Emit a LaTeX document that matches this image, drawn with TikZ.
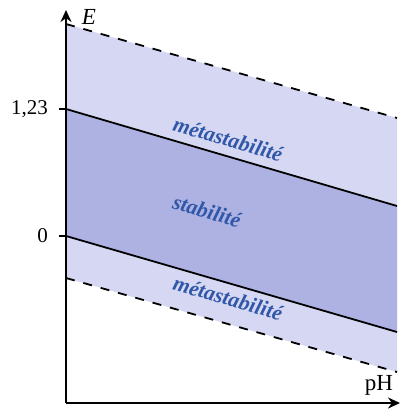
\documentclass[tikz,border=0pt]{standalone}
\usepackage{fontspec}
\setmainfont{Liberation Serif}
\usetikzlibrary{arrows.meta}
\definecolor{Cmeta}{HTML}{D6D8F3}
\definecolor{Cstab}{HTML}{ADB2E3}
\definecolor{Czone}{HTML}{3057A8}

\begin{document}
\begin{tikzpicture}[x=0.5pt,y=-0.5pt,font=\fontsize{10.5}{12}\selectfont,
	zonelabel/.style={text=Czone,font=\fontsize{10.8}{12}\selectfont\bfseries\itshape,rotate=-16},
	axisline/.style={line width=1.2pt,-{Stealth[length=6pt,width=5.5pt]}}]
	\useasboundingbox (0,0) rectangle (403,412);
	% zones
	\fill[Cmeta] (66,24) -- (397,118) -- (397,372) -- (66,278) -- cycle;
	\fill[Cstab] (66,109) -- (397,206) -- (397,332) -- (66,236) -- cycle;
	% limits
	\draw[line width=0.9pt,dash pattern=on 4.5pt off 4.5pt] (66,24) -- (397,118);
	\draw[line width=0.9pt,dash pattern=on 4.5pt off 4.5pt] (66,278) -- (397,372);
	\draw[line width=0.9pt] (66,109) -- (397,206);
	\draw[line width=0.9pt] (66,236) -- (397,332);
	% axes
	\coordinate (O) at (66,403);
	\coordinate (Etip) at (66,10);
	\coordinate (pHtip) at (400,403);
	\draw[axisline] (O) -- (Etip);
	\draw[axisline] (O) -- (pHtip);
	\node[font=\fontsize{11.5}{12}\selectfont\itshape] (E) at (89,17) {E};
	\node[font=\fontsize{11.5}{12}\selectfont] (pH) at (379,385) {pH};
	\draw[line width=0.9pt] (59,109) -- (66,109);
	\draw[line width=0.9pt] (59,236) -- (66,236);
	\node[anchor=east] (t123) at (55,109) {1,23};
	\node[anchor=east] (t0) at (55,236) {0};
	% labels
	\node[zonelabel] (metahaut) at (228,139) {métastabilité};
	\node[zonelabel] (stab) at (207,211) {stabilité};
	\node[zonelabel] (metabas) at (228,298) {métastabilité};
\end{tikzpicture}
\end{document}
